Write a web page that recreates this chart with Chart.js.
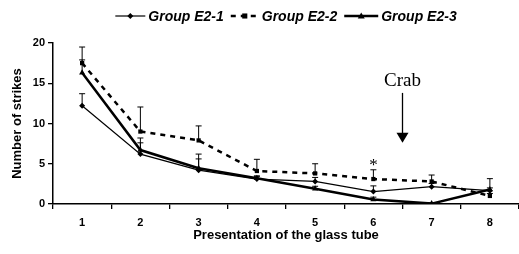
<!DOCTYPE html>
<html><head><meta charset="utf-8">
<script src="https://cdn.jsdelivr.net/npm/chart.js@4"></script>
<style>html,body{margin:0;padding:0;background:#fff;overflow:hidden}</style>
</head><body>
<canvas id="c" width="519" height="254"></canvas>
<script>
const categories = ['1', '2', '3', '4', '5', '6', '7', '8'];
const seriesNames = ['Group E2-1', 'Group E2-2', 'Group E2-3'];
const groupE21 = [12.2, 6.2, 4.2, 3.1, 2.8, 1.55, 2.15, 1.65];
const groupE22 = [17.5, 9.0, 7.9, 4.1, 3.8, 3.1, 2.8, 1.0];
const groupE23 = [16.3, 6.7, 4.45, 3.2, 1.9, 0.55, 0.05, 1.8];
const errE21 = [1.5, 1.4, 1.4, 0.3, 0.5, 0.7, 0.4, 1.5];
const errE22 = [2.0, 3.05, 1.8, 1.45, 1.2, 1.15, 0.8, 0.3];
const errE23 = [1.6, 1.5, 1.75, 0.3, 0.3, 0.3, 0.1, 0.2];
const yTicks = [0, 5, 10, 15, 20];
const crabLabel = 'Crab';
const crabBetween = [5, 6];      // category indexes the arrow sits between
const crabArrow = [13.8, 7.6];   // arrow start / tip (y values)
const crabText = 15.3;
const starIndex = 5;
const starValue = 5.1;

const errors = [errE21, errE22, errE23];

const errorBars = {
  id: 'errorBars',
  afterDatasetsDraw(chart) {
    const ctx = chart.ctx, y = chart.scales.y;
    ctx.save();
    ctx.strokeStyle = '#000';
    ctx.lineWidth = 1;
    chart.data.datasets.forEach((ds, di) => {
      const meta = chart.getDatasetMeta(di);
      meta.data.forEach((pt, i) => {
        const top = y.getPixelForValue(ds.data[i] + errors[di][i]);
        ctx.beginPath();
        ctx.moveTo(pt.x, pt.y); ctx.lineTo(pt.x, top);
        ctx.moveTo(pt.x - 3, top); ctx.lineTo(pt.x + 3, top);
        ctx.stroke();
      });
    });
    ctx.restore();
  }
};

function marker(ctx, style, x, y, r) {
  ctx.beginPath();
  if (style === 'rectRot') {
    ctx.moveTo(x, y - r); ctx.lineTo(x + r, y); ctx.lineTo(x, y + r); ctx.lineTo(x - r, y);
  } else if (style === 'rect') {
    ctx.rect(x - r * 0.85, y - r * 0.85, r * 1.7, r * 1.7);
  } else {
    ctx.moveTo(x, y - r); ctx.lineTo(x + r, y + r * 0.7); ctx.lineTo(x - r, y + r * 0.7);
  }
  ctx.closePath();
  ctx.fill();
}

const extras = {
  id: 'extras',
  afterDraw(chart) {
    const ctx = chart.ctx, xs = chart.scales.x, ys = chart.scales.y, area = chart.chartArea;
    ctx.save();
    ctx.fillStyle = '#000'; ctx.strokeStyle = '#000';
    // legend
    ctx.font = 'italic bold 14px "Liberation Sans", Arial, sans-serif';
    ctx.textBaseline = 'middle';
    const lineLen = [30, 28, 34];
    const widths = chart.data.datasets.map(d => ctx.measureText(d.label).width);
    let total = 0;
    widths.forEach((w, i) => total += lineLen[i] + 3 + w + (i < 2 ? 7 : 0));
    let lx = (area.left + area.right) / 2 - total / 2;
    const ly = 16;
    chart.data.datasets.forEach((d, i) => {
      ctx.save();
      ctx.lineWidth = d.borderWidth;
      ctx.setLineDash(d.borderDash || []);
      ctx.beginPath(); ctx.moveTo(lx, ly); ctx.lineTo(lx + lineLen[i], ly); ctx.stroke();
      ctx.restore();
      marker(ctx, d.pointStyle, lx + lineLen[i] / 2, ly, d.pointRadius);
      ctx.textAlign = 'left';
      ctx.fillText(d.label, lx + lineLen[i] + 3, ly + 1);
      lx += lineLen[i] + 3 + widths[i] + 7;
    });
    // crab annotation
    const ax = (xs.getPixelForValue(crabBetween[0]) + xs.getPixelForValue(crabBetween[1])) / 2;
    const y0 = ys.getPixelForValue(crabArrow[0]), y1 = ys.getPixelForValue(crabArrow[1]);
    ctx.font = '19px "Liberation Serif", "Times New Roman", serif';
    ctx.textAlign = 'center'; ctx.textBaseline = 'middle';
    ctx.fillText(crabLabel, ax, ys.getPixelForValue(crabText));
    ctx.lineWidth = 1.3;
    ctx.beginPath(); ctx.moveTo(ax, y0); ctx.lineTo(ax, y1 - 8); ctx.stroke();
    ctx.beginPath(); ctx.moveTo(ax - 6, y1 - 10); ctx.lineTo(ax + 6, y1 - 10); ctx.lineTo(ax, y1); ctx.closePath(); ctx.fill();
    // asterisk
    ctx.font = '17px "Liberation Serif", "Times New Roman", serif';
    ctx.textBaseline = 'middle';
    ctx.fillText('*', xs.getPixelForValue(starIndex), ys.getPixelForValue(starValue) + 3);
    ctx.restore();
  }
};

new Chart(document.getElementById('c'), {
  type: 'line',
  data: {
    labels: categories,
    datasets: [
      { label: seriesNames[0], data: groupE21, borderColor: '#000', backgroundColor: '#000', borderWidth: 1.2,
        pointStyle: 'rectRot', pointRadius: 3, pointBorderWidth: 0, tension: 0 },
      { label: seriesNames[1], data: groupE22, borderColor: '#000', backgroundColor: '#000', borderWidth: 2.5,
        borderDash: [5, 5], pointStyle: 'rect', pointRadius: 3, pointBorderWidth: 0, tension: 0 },
      { label: seriesNames[2], data: groupE23, borderColor: '#000', backgroundColor: '#000', borderWidth: 2.5,
        pointStyle: 'triangle', pointRadius: 3.5, pointBorderWidth: 0, tension: 0 }
    ]
  },
  options: {
    responsive: false,
    animation: false,
    layout: { autoPadding: false, padding: { top: 43, right: -3, left: 0, bottom: 0 } },
    plugins: { legend: { display: false }, tooltip: { enabled: false } },
    scales: {
      x: {
        offset: true,
        grid: { offset: true, drawOnChartArea: false, drawTicks: true, tickLength: 5, color: '#000', lineWidth: 1.3 },
        border: { color: '#000', width: 1.5 },
        ticks: { color: '#000', padding: 7, font: { family: '"Liberation Sans", Arial, sans-serif', size: 11, weight: 'bold' } },
        title: { display: true, text: 'Presentation of the glass tube', color: '#000', padding: { top: 2, bottom: 11 },
          font: { family: '"Liberation Sans", Arial, sans-serif', size: 13, weight: 'bold' } },
        afterFit(s) { s.height = 50; }
      },
      y: {
        min: 0, max: 20,
        afterBuildTicks(s) { s.ticks = yTicks.map(v => ({ value: v })); },
        grid: { drawOnChartArea: false, drawTicks: true, tickLength: 5, color: '#000', lineWidth: 1.3 },
        border: { color: '#000', width: 1.5 },
        ticks: { color: '#000', padding: 3, font: { family: '"Liberation Sans", Arial, sans-serif', size: 11, weight: 'bold' } },
        title: { display: true, text: 'Number of strikes', color: '#000', padding: { top: 10, bottom: 2 },
          font: { family: '"Liberation Sans", Arial, sans-serif', size: 13, weight: 'bold' } },
        afterFit(s) { s.width = 53; }
      }
    }
  },
  plugins: [errorBars, extras]
});
</script>
</body></html>
